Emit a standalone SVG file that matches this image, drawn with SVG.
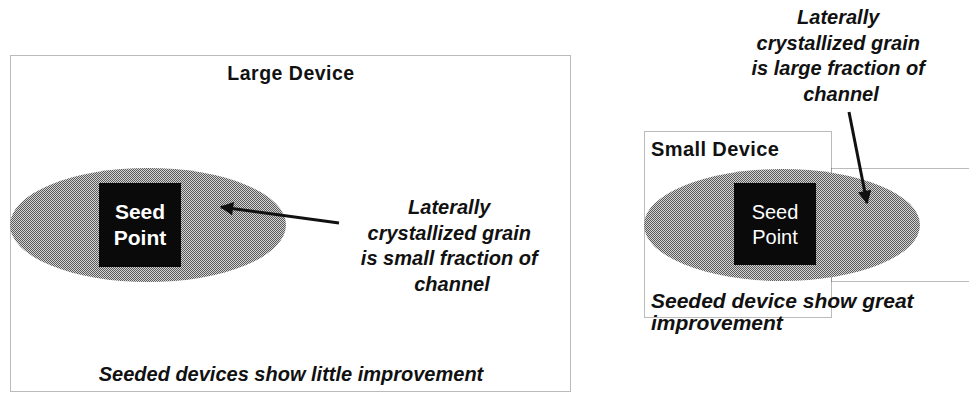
<svg xmlns="http://www.w3.org/2000/svg" width="969" height="394" viewBox="0 0 969 394">
<style>
  .box { fill: none; stroke: #777; stroke-width: 1; stroke-dasharray: 1 1; }
  .grain { fill: url(#dither); }
  .seed { fill: #0a0a0a; }
  .lbl { font-family: "Liberation Sans", Arial, sans-serif; font-weight: bold; fill: #111; }
  .note { font-family: "Liberation Sans", Arial, sans-serif; font-weight: bold; font-style: italic; fill: #111; }
  .seedtxt { font-family: "Liberation Sans", Arial, sans-serif; fill: #fff; text-anchor: middle; }
  .conn { stroke: #111; stroke-width: 3; fill: none; }
</style>
<defs>
  <pattern id="dither" width="2" height="2" patternUnits="userSpaceOnUse">
    <rect width="2" height="2" fill="#d4d4d4"/>
    <rect width="1" height="1" fill="#5a5a5a"/>
    <rect x="1" y="1" width="1" height="1" fill="#5a5a5a"/>
  </pattern>
  <marker id="ah" viewBox="0 0 10 10" refX="9" refY="5" markerWidth="5.5" markerHeight="4.5" orient="auto" markerUnits="strokeWidth">
    <path d="M0,0 L10,5 L0,10 Z" fill="#111"/>
  </marker>
</defs>
<rect width="969" height="394" fill="#fff"/>

<g id="large-device">
  <rect class="box" x="10.5" y="55.5" width="560" height="336"/>
  <text class="lbl" x="291" y="80" font-size="19.5" letter-spacing="0.5" text-anchor="middle">Large Device</text>
  <ellipse class="grain" cx="148" cy="225" rx="138" ry="57"/>
  <g id="large-seed">
    <rect class="seed" x="99" y="183" width="82" height="84"/>
    <text class="seedtxt" x="140" y="219" font-size="21" font-weight="bold">Seed</text>
    <text class="seedtxt" x="140" y="245" font-size="21" font-weight="bold">Point</text>
  </g>
  <text class="note" font-size="20" text-anchor="middle">
    <tspan x="452" y="214">Laterally</tspan>
    <tspan x="452" y="239.5">crystallized grain</tspan>
    <tspan x="452" y="265">is small fraction of</tspan>
    <tspan x="452" y="290.5">channel</tspan>
  </text>
  <text class="note" x="291" y="381" font-size="20" text-anchor="middle">Seeded devices show little improvement</text>
</g>

<g id="small-device">
  <rect class="box" x="644.5" y="131.5" width="187" height="186"/>
  <path class="box" d="M831.5,168.5 H975 M831.5,281.5 H975 M831.5,168.5 V281.5"/>
  <text class="lbl" x="651" y="156" font-size="20" letter-spacing="0.4">Small Device</text>
  <ellipse class="grain" cx="782" cy="225" rx="138" ry="56"/>
  <g id="small-seed">
    <rect class="seed" x="734" y="183" width="82" height="82"/>
    <text class="seedtxt" x="775" y="219" font-size="20">Seed</text>
    <text class="seedtxt" x="775" y="244" font-size="20">Point</text>
  </g>
  <text class="note" font-size="20" text-anchor="middle">
    <tspan x="841" y="24">Laterally</tspan>
    <tspan x="841" y="49.5">crystallized grain</tspan>
    <tspan x="841" y="75">is large fraction of</tspan>
    <tspan x="841" y="100.5">channel</tspan>
  </text>
  <text class="note" font-size="21">
    <tspan x="651" y="308">Seeded device show great</tspan>
    <tspan x="651" y="330">improvement</tspan>
  </text>
</g>

<g id="connectors">
  <line class="conn" x1="339" y1="223" x2="221" y2="207" marker-end="url(#ah)"/>
  <line class="conn" x1="849" y1="112" x2="867" y2="203" marker-end="url(#ah)"/>
</g>
</svg>
